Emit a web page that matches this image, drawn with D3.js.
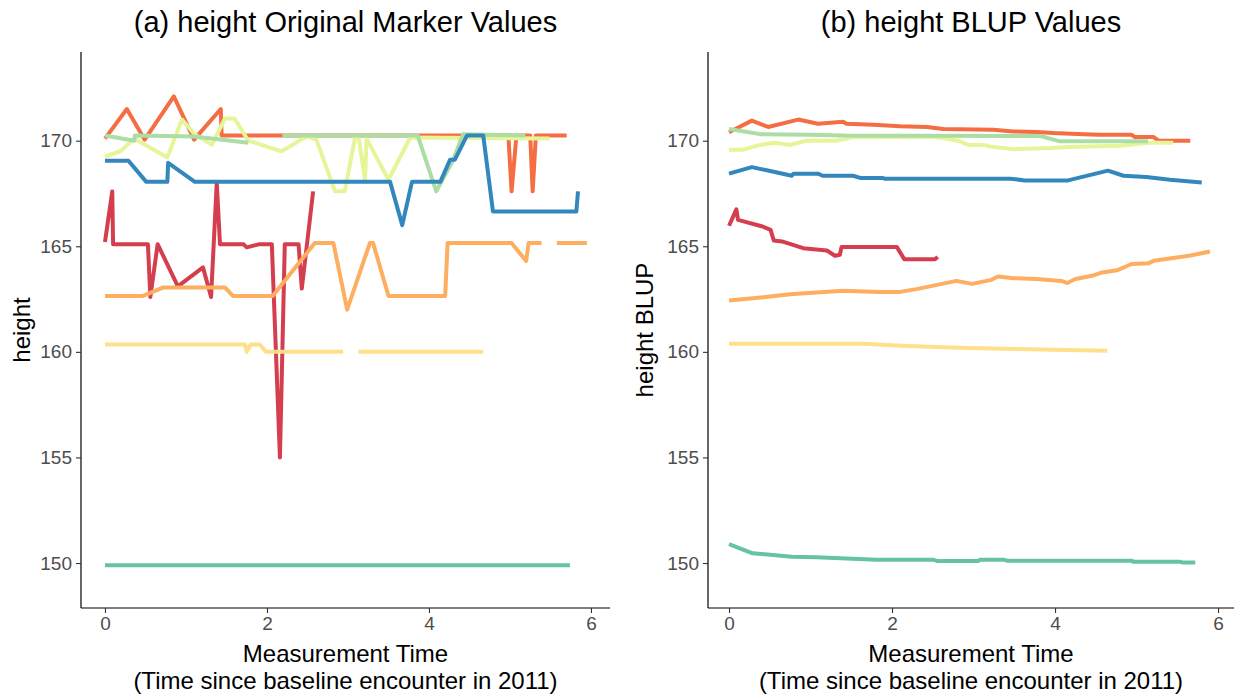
<!DOCTYPE html>
<html>
<head>
<meta charset="utf-8">
<script src="https://cdn.jsdelivr.net/npm/d3@7"></script>
<style>
  html, body { margin: 0; padding: 0; background: #fff; }
  svg { display: block; font-family: "Liberation Sans", Arial, sans-serif; }
</style>
</head>
<body>
<svg id="chart" width="1236" height="694"></svg>
<script>
// Tick values shared by both panels
const timeTicks = [0, 2, 4, 6];
const heightTicks = [150, 155, 160, 165, 170];

// Spectral palette, one colour per subject
const subjectColors = ["#D53E4F", "#F46D43", "#FDAE61", "#FEE08B", "#E6F598", "#ABDDA4", "#66C2A5", "#3288BD"];

// Original height measurements: [time, height]; null marks a missing visit
const orig1 = [[0,165.2],[0.09,167.6],[0.10,165.1],[0.53,165.1],[0.56,162.6],[0.65,165.1],[0.90,163.1],[1.21,164.0],[1.31,162.6],[1.38,168.0],[1.42,165.1],[1.71,165.1],[1.75,164.95],[1.91,165.1],[2.06,165.1],[2.16,155.0],[2.22,165.1],[2.39,165.1],[2.43,163.0],[2.57,167.6]];
const orig2 = [[0,170.1],[0.27,171.5],[0.49,170.05],[0.85,172.1],[1.10,170.05],[1.43,171.5],[1.44,170.25],[4.98,170.25],[5.02,167.6],[5.08,170.25],[5.25,170.25],[5.28,167.6],[5.32,170.25],[5.70,170.25]];
const orig3 = [[0,162.65],[0.47,162.65],[0.72,163.05],[1.48,163.05],[1.58,162.65],[2.07,162.65],[2.59,165.15],[2.82,165.15],[2.99,162.0],[3.27,165.15],[3.31,165.15],[3.50,162.65],[4.20,162.65],[4.23,165.15],[5.02,165.15],[5.20,164.3],[5.23,165.15],[5.39,165.15],null,[5.58,165.15],[5.95,165.15]];
const orig4 = [[0,160.35],[1.73,160.35],[1.75,160.0],[1.80,160.35],[1.91,160.35],[1.99,160.0],[2.94,160.0],null,[3.13,160.0],[4.67,160.0]];
const orig5 = [[0,169.25],[0.19,169.5],[0.36,170.1],[0.77,169.2],[0.95,171.0],[1.11,170.3],[1.32,169.8],[1.48,171.05],[1.60,171.05],[1.77,170.0],[2.18,169.5],[2.49,170.2],[2.61,170.05],[2.84,167.6],[2.96,167.6],[3.09,170.2],[3.13,170.2],[3.21,168.15],[3.23,170.1],[3.50,168.15],[3.77,170.15],[5.49,170.1]];
const orig6 = [[0,170.25],[0.36,170.0],[0.37,170.25],[1.10,170.2],[1.77,169.9],null,[2.19,170.25],[3.86,170.25],[4.09,167.6],[4.30,169.1],[4.42,170.3],[5.19,170.25]];
const orig7 = [[0,149.9],[5.74,149.9]];
const orig8 = [[0,169.05],[0.29,169.05],[0.51,168.05],[0.77,168.05],[0.78,168.95],[1.11,168.05],[3.52,168.05],[3.67,166.0],[3.79,168.05],[4.14,168.05],[4.26,169.1],[4.32,169.1],[4.47,170.25],[4.67,170.25],[4.79,166.65],[5.82,166.65],[5.84,167.6]];

// BLUP height values: [time, height]
const blup1 = [[0,165.97],[0.09,166.75],[0.11,166.25],[0.40,165.95],[0.51,165.78],[0.55,165.27],[0.65,165.23],[0.91,164.91],[1.20,164.8],[1.30,164.55],[1.36,164.6],[1.38,164.96],[2.06,164.96],[2.15,164.39],[2.53,164.39],[2.56,164.5]];
const blup2 = [[0,170.4],[0.28,170.95],[0.48,170.65],[0.85,171.0],[1.09,170.8],[1.40,170.9],[1.44,170.8],[1.77,170.75],[2.10,170.68],[2.43,170.65],[2.63,170.55],[3.24,170.52],[3.49,170.44],[3.77,170.41],[3.98,170.36],[4.35,170.31],[4.55,170.28],[4.94,170.28],[4.98,170.17],[5.21,170.17],[5.27,170.0],[5.66,170.0]];
const blup3 = [[0,162.43],[0.42,162.59],[0.75,162.73],[1.40,162.89],[1.85,162.83],[2.10,162.84],[2.30,162.97],[2.79,163.36],[2.98,163.22],[3.22,163.41],[3.30,163.57],[3.49,163.49],[3.77,163.45],[4.08,163.36],[4.15,163.26],[4.25,163.45],[4.47,163.62],[4.58,163.76],[4.76,163.86],[4.94,164.16],[5.15,164.2],[5.21,164.31],[5.45,164.44],[5.66,164.56],[5.90,164.75]];
const blup4 = [[0,160.38],[1.65,160.38],[2.18,160.28],[2.92,160.18],[4.64,160.05]];
const blup5 = [[0,169.57],[0.17,169.57],[0.38,169.8],[0.56,169.9],[0.75,169.8],[0.95,170.0],[1.32,170.0],[1.52,170.17],[2.5,170.17],[2.67,170.1],[2.83,169.97],[2.94,169.8],[3.12,169.8],[3.20,169.73],[3.49,169.6],[3.94,169.65],[4.18,169.7],[4.80,169.76],[5.16,169.9],[5.45,169.9]];
const blup6 = [[0,170.55],[0.38,170.31],[0.99,170.28],[1.40,170.24],[3.82,170.22],[4.06,169.97],[5.14,169.97]];
const blup7 = [[0,150.9],[0.29,150.46],[0.77,150.3],[1.07,150.27],[1.52,150.2],[1.81,150.16],[2.50,150.16],[2.55,150.1],[3.06,150.1],[3.08,150.16],[3.37,150.16],[3.41,150.11],[4.94,150.11],[4.96,150.06],[5.54,150.06],[5.56,150.03],[5.72,150.03]];
const blup8 = [[0,168.44],[0.28,168.75],[0.52,168.55],[0.77,168.34],[0.79,168.44],[1.09,168.44],[1.15,168.34],[1.52,168.34],[1.62,168.23],[1.89,168.23],[1.91,168.2],[3.45,168.2],[3.63,168.12],[4.16,168.12],[4.65,168.58],[4.84,168.34],[5.12,168.28],[5.41,168.15],[5.80,168.02]];

const origSeries = [orig1, orig2, orig3, orig4, orig5, orig6, orig7, orig8];
const blupSeries = [blup1, blup2, blup3, blup4, blup5, blup6, blup7, blup8];

const svg = d3.select("#chart");
const TICK_FONT = 19, AXIS_FONT = 24, TITLE_FONT = 29;

function drawPanel(opts) {
  const { left, right, top, bottom, xDomain, yDomain, series, title, yLabel } = opts;
  const x = d3.scaleLinear().domain(xDomain).range([left, right]);
  const y = d3.scaleLinear().domain(yDomain).range([bottom, top]);
  const g = svg.append("g");

  // subject trajectories, drawn in factor order
  const line = d3.line()
    .defined(d => d !== null)
    .x(d => x(d[0]))
    .y(d => y(d[1]));
  series.forEach((s, i) => {
    g.append("path")
      .attr("d", line(s))
      .attr("fill", "none")
      .attr("stroke", subjectColors[i])
      .attr("stroke-width", 4)
      .attr("stroke-linejoin", "round")
      .attr("stroke-linecap", "butt");
  });

  // axes
  const xAxis = d3.axisBottom(x).tickValues(timeTicks).tickSize(5).tickPadding(4).tickFormat(d3.format("d"));
  const yAxis = d3.axisLeft(y).tickValues(heightTicks).tickSize(5).tickPadding(4).tickFormat(d3.format("d"));

  const gx = g.append("g").attr("transform", `translate(0,${bottom})`).call(xAxis);
  const gy = g.append("g").attr("transform", `translate(${left},0)`).call(yAxis);
  [gx, gy].forEach(a => {
    a.select(".domain").attr("stroke", "#000").attr("stroke-width", 1.2);
    a.selectAll(".tick line").attr("stroke", "#333").attr("stroke-width", 1.1);
    a.selectAll(".tick text").attr("fill", "#4D4D4D").style("font-size", TICK_FONT + "px")
      .style("font-family", "'Liberation Sans', Arial, sans-serif");
  });
  gx.select(".domain").attr("d", `M${left},0H${right}`);
  gy.select(".domain").attr("d", `M0,${bottom}V${top}`);

  const cx = (left + right) / 2;
  g.append("text").attr("x", cx).attr("y", 32).attr("text-anchor", "middle")
    .style("font-size", TITLE_FONT + "px").attr("fill", "#000").text(title);
  g.append("text").attr("x", cx).attr("y", 662).attr("text-anchor", "middle")
    .style("font-size", AXIS_FONT + "px").attr("fill", "#000").text("Measurement Time");
  g.append("text").attr("x", cx).attr("y", 689).attr("text-anchor", "middle")
    .style("font-size", AXIS_FONT + "px").attr("fill", "#000").text("(Time since baseline encounter in 2011)");
  const cy = (top + bottom) / 2;
  g.append("text")
    .attr("transform", `translate(${opts.yLabelX},${cy}) rotate(-90)`)
    .attr("text-anchor", "middle")
    .style("font-size", AXIS_FONT + "px").attr("fill", "#000").text(yLabel);
}

const yDomain = [147.87, 174.2];

drawPanel({
  left: 81, right: 610, top: 52, bottom: 608,
  xDomain: [-0.296, 6.235], yDomain,
  series: origSeries,
  title: "(a) height Original Marker Values",
  yLabel: "height", yLabelX: 30
});

drawPanel({
  left: 708, right: 1234, top: 52, bottom: 608,
  xDomain: [-0.258, 6.196], yDomain,
  series: blupSeries,
  title: "(b) height BLUP Values",
  yLabel: "height BLUP", yLabelX: 653
});
</script>
</body>
</html>
